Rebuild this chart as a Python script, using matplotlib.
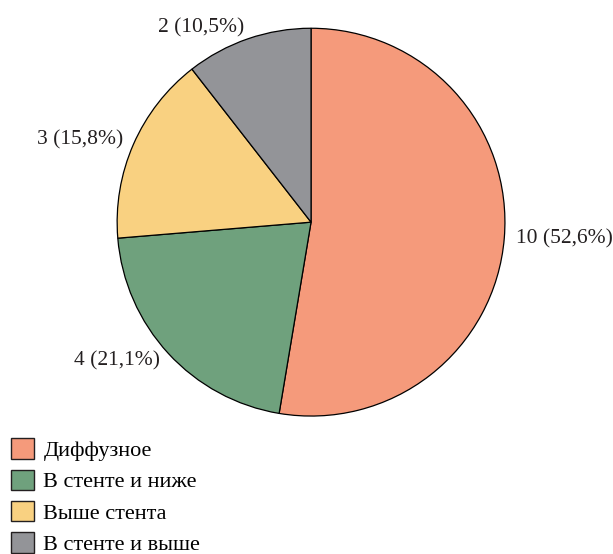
import matplotlib
import matplotlib.pyplot as plt
from matplotlib.patches import Patch

matplotlib.use("Agg")

plt.rcParams["font.family"] = ["Liberation Serif", "DejaVu Serif"]

# Data
categories = ["Диффузное", "В стенте и ниже", "Выше стента", "В стенте и выше"]
counts = [10, 4, 3, 2]
percents = ["52,6", "21,1", "15,8", "10,5"]
colors = ["#F59A7B", "#6FA17D", "#F9D181", "#939498"]

labels = [f"{c} ({p}%)" for c, p in zip(counts, percents)]

fig = plt.figure(figsize=(6.13, 5.54), dpi=100)
ax = fig.add_axes([0.1909, 0.249, 0.633, 0.700])

ax.pie(
    counts,
    labels=labels,
    colors=colors,
    startangle=90,
    counterclock=False,
    labeldistance=1.06,
    radius=1.0,
    wedgeprops={"edgecolor": "black", "linewidth": 0.9},
    textprops={"fontsize": 15.5, "color": "#231F20"},
)
ax.set_xlim(-1, 1)
ax.set_ylim(-1, 1)
ax.set_aspect("equal")

handles = [Patch(facecolor=c, edgecolor="#231F20", linewidth=1.0) for c in colors]
fig.legend(
    handles,
    categories,
    loc="lower left",
    bbox_to_anchor=(0.0, -0.022),
    frameon=False,
    fontsize=16,
    handlelength=1.05,
    handleheight=1.05,
    handletextpad=0.4,
    labelspacing=0.38,
    borderaxespad=0.3,
    borderpad=0.2,
)

fig.savefig("out.png", dpi=100)
